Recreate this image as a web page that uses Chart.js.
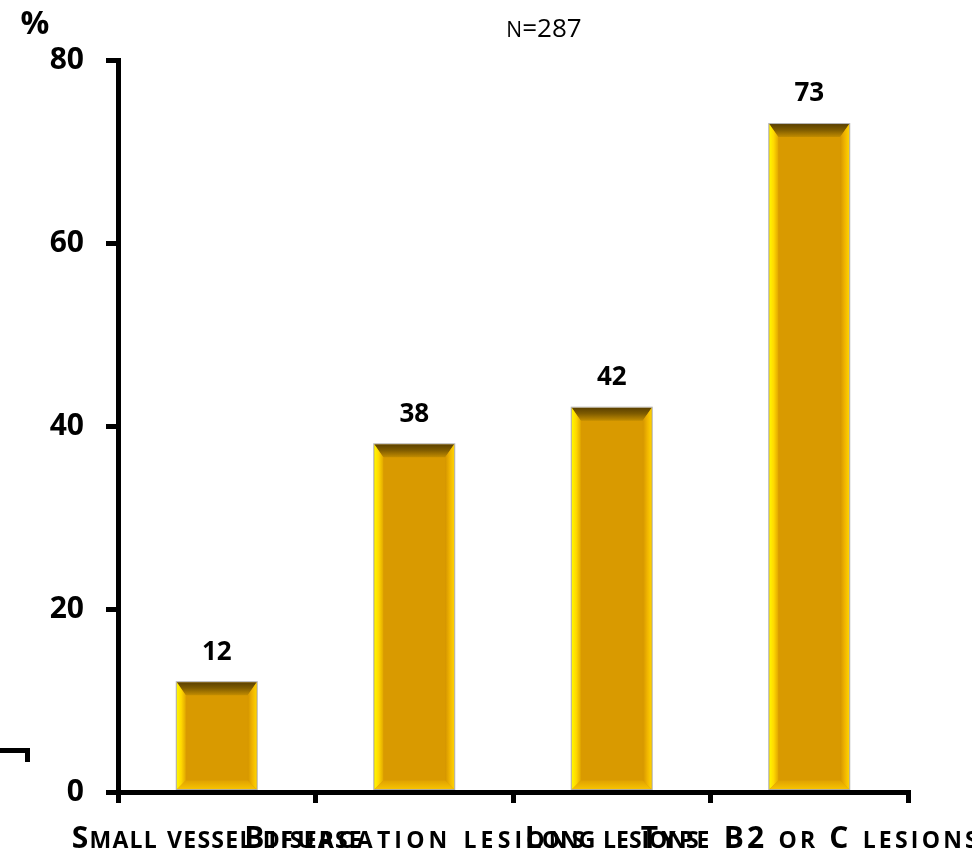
<!DOCTYPE html>
<html>
<head>
<meta charset="utf-8">
<script src="https://cdn.jsdelivr.net/npm/chart.js@4/dist/chart.umd.min.js"></script>
<style>
  html, body { margin: 0; padding: 0; background: #fff; }
  #wrap { position: relative; width: 972px; height: 853px; overflow: hidden; }
  #corner { position: absolute; left: 0; top: 748px; width: 25px; height: 9px;
            border-top: 5px solid #000; border-right: 5px solid #000; }
</style>
</head>
<body>
<div id="wrap">
  <canvas id="c" width="972" height="853"></canvas>
  <div id="corner"></div>
</div>
<script>
// Lesion types and share of patients (%)
const categories = ['Small vessel disease', 'Bifurcation lesions', 'Long lesions', 'Type B2 or C lesions'];
const percentValues = [12, 38, 42, 73];
const yTicks = [0, 20, 40, 60, 80];
const unitLabel = '%';
const sampleLabel = 'n=287'; // lowercase letters are set as small capitals

const FONT = "'Open Sans', 'DejaVu Sans', sans-serif";
// spread of each category caption under the axis
const captionWidths = [290, 340, 174, 337];

function partsOf(text, big, small) {
  return [...text].map(ch => {
    const isLower = ch !== ch.toUpperCase();
    return { ch: ch.toUpperCase(), size: isLower ? small : big };
  });
}

// draws text in small capitals, centred on cx
function drawSmallCaps(ctx, text, cx, baseline, big, small, weight, targetWidth) {
  const parts = partsOf(text, big, small);
  let natural = 0;
  parts.forEach(p => {
    ctx.font = `${weight} ${p.size}px ${FONT}`;
    p.w = ctx.measureText(p.ch).width;
    natural += p.w;
  });
  let spacing = 0;
  if (targetWidth && parts.length > 1) spacing = (targetWidth - natural) / (parts.length - 1);
  const total = natural + spacing * (parts.length - 1);
  let x = cx - total / 2;
  ctx.textAlign = 'left';
  ctx.textBaseline = 'alphabetic';
  parts.forEach(p => {
    ctx.font = `${weight} ${p.size}px ${FONT}`;
    ctx.fillText(p.ch, x, baseline);
    x += p.w + spacing;
  });
}

function fillPoly(ctx, pts, style) {
  ctx.beginPath();
  ctx.moveTo(pts[0][0], pts[0][1]);
  for (let i = 1; i < pts.length; i++) ctx.lineTo(pts[i][0], pts[i][1]);
  ctx.closePath();
  ctx.fillStyle = style;
  ctx.fill();
}

// bevelled gold bars, value labels, captions and headings
const decorPlugin = {
  id: 'decor',
  afterDatasetsDraw(chart) {
    const ctx = chart.ctx;
    const meta = chart.getDatasetMeta(0);
    meta.data.forEach((bar, i) => {
      const { x, y, base, width } = bar.getProps(['x', 'y', 'base', 'width'], true);
      const l = x - width / 2, r = x + width / 2, t = y, b = base;
      const bt = 13, bs = 9, bb = 9;
      ctx.save();
      ctx.fillStyle = '#D99A00';
      ctx.fillRect(l, t, width, b - t);

      let g = ctx.createLinearGradient(0, t, 0, t + bt);
      g.addColorStop(0, '#5A4000');
      g.addColorStop(0.45, '#7E5B00');
      g.addColorStop(1, '#C28C00');
      fillPoly(ctx, [[l, t], [r, t], [r - bs, t + bt], [l + bs, t + bt]], g);

      g = ctx.createLinearGradient(l, 0, l + bs, 0);
      g.addColorStop(0, '#FFF800');
      g.addColorStop(0.5, '#FFD800');
      g.addColorStop(1, '#E2A800');
      fillPoly(ctx, [[l, t], [l + bs, t + bt], [l + bs, b - bb], [l, b]], g);

      g = ctx.createLinearGradient(r, 0, r - bs, 0);
      g.addColorStop(0, '#FFD400');
      g.addColorStop(0.5, '#F0B400');
      g.addColorStop(1, '#D49500');
      fillPoly(ctx, [[r, t], [r, b], [r - bs, b - bb], [r - bs, t + bt]], g);

      g = ctx.createLinearGradient(0, b, 0, b - bb);
      g.addColorStop(0, '#F8C400');
      g.addColorStop(1, '#E0A200');
      fillPoly(ctx, [[l, b], [l + bs, b - bb], [r - bs, b - bb], [r, b]], g);

      ctx.strokeStyle = 'rgba(170,170,170,0.9)';
      ctx.lineWidth = 1;
      ctx.strokeRect(l - 0.5, t - 0.5, width + 1, b - t + 0.5);

      ctx.fillStyle = '#000';
      ctx.font = `bold 26px ${FONT}`;
      ctx.textAlign = 'center';
      ctx.textBaseline = 'middle';
      ctx.fillText(String(percentValues[i]), x, t - 30);
      ctx.restore();
    });
  },
  afterDraw(chart) {
    const ctx = chart.ctx;
    const xs = chart.scales.x;
    ctx.save();
    ctx.fillStyle = '#000';
    categories.forEach((c, i) => {
      drawSmallCaps(ctx, c, xs.getPixelForValue(i), 848, 30, 23, 'bold', captionWidths[i]);
    });
    ctx.font = `bold 32px ${FONT}`;
    ctx.textAlign = 'center';
    ctx.textBaseline = 'middle';
    ctx.fillText(unitLabel, 35, 25);
    drawSmallCaps(ctx, sampleLabel, (chart.chartArea.left + chart.chartArea.right) / 2 + 31, 37, 26, 21, 'normal', 0);
    ctx.restore();
  }
};

new Chart(document.getElementById('c'), {
  type: 'bar',
  data: {
    labels: categories,
    datasets: [{
      data: percentValues,
      backgroundColor: '#D99A00',
      borderWidth: 0,
      barPercentage: 0.405,
      categoryPercentage: 1
    }]
  },
  options: {
    responsive: false,
    animation: false,
    devicePixelRatio: 1,
    layout: { padding: { top: 60, right: 64, bottom: 0, left: 0 } },
    plugins: { legend: { display: false }, tooltip: { enabled: false } },
    scales: {
      x: {
        offset: true,
        z: 1,
        grid: { offset: true, drawOnChartArea: false, drawTicks: true, tickLength: 11, color: '#000', lineWidth: 5 },
        border: { display: true, color: '#000', width: 5 },
        ticks: { callback: () => '', autoSkip: false, maxRotation: 0, minRotation: 0 },
        afterFit(s) { s.height = 61; }
      },
      y: {
        min: 0,
        max: 80,
        z: 1,
        afterBuildTicks(s) { s.ticks = yTicks.map(v => ({ value: v })); },
        grid: { drawOnChartArea: false, drawTicks: true, tickLength: 12, color: '#000', lineWidth: 5 },
        border: { display: true, color: '#000', width: 5 },
        ticks: { padding: 22, color: '#000', font: { family: FONT, size: 30, weight: 'bold' } },
        afterFit(s) { s.width = 118; }
      }
    }
  },
  plugins: [decorPlugin]
});
</script>
</body>
</html>
